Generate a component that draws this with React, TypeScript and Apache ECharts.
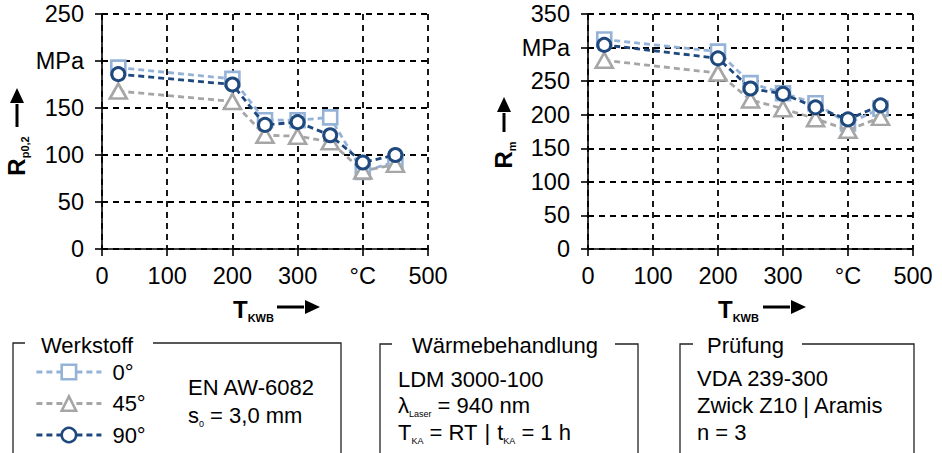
import React, { useEffect, useRef } from 'react';
import * as echarts from 'echarts';

// ---- data ----
const temps = [25, 200, 250, 300, 350, 400, 450];
const rp02_0 = [193, 181, 137, 137, 140, 82, 93];
const rp02_45 = [168, 157, 121, 120, 114, 83, 90];
const rp02_90 = [186, 175, 132, 135, 121, 92, 100];
const rm_0 = [312, 294, 247, 232, 217, 187, 209];
const rm_45 = [281, 262, 222, 209, 194, 177, 196];
const rm_90 = [304, 284, 239, 231, 211, 193, 214];
const orientations = ['0°', '45°', '90°'];
const xUnitTick = 400; // replaced by "°C"
const rpUnitTick = 200; // replaced by "MPa"
const rmUnitTick = 300; // replaced by "MPa"

const colors = ['#95B3D7', '#A6A6A6', '#1F497D'];
const symbols = ['rect', 'triangle', 'circle'];
const symbolSizes: any[] = [14, [17, 15], 13];
const FONT = '"Liberation Sans", Arial, sans-serif';
const TICK_FONT = 23.5;

function mkSeries(name: string, idx: number, vals: number[], gi: number) {
  return {
    type: 'line',
    name,
    xAxisIndex: gi,
    yAxisIndex: gi,
    data: temps.map((t, i) => [t, vals[i]]),
    symbol: symbols[idx],
    symbolSize: symbolSizes[idx],
    showSymbol: true,
    z: 2 + idx,
    lineStyle: { color: colors[idx], width: 2.8, type: [6, 4] },
    itemStyle: { color: '#ffffff', borderColor: colors[idx], borderWidth: idx === 2 ? 3 : 2.6 },
  };
}

function xAxis(gi: number) {
  return {
    gridIndex: gi,
    type: 'value',
    min: 0,
    max: 500,
    interval: 100,
    axisLine: { show: true, lineStyle: { color: '#000', width: 1.6 } },
    axisTick: { show: true, length: 7, lineStyle: { color: '#000', width: 1.6 } },
    axisLabel: {
      fontSize: TICK_FONT,
      color: '#000',
      fontFamily: FONT,
      margin: 15,
      formatter: (v: number) => (v === xUnitTick ? '°C' : String(v)),
    },
    splitLine: { show: true, lineStyle: { color: '#000', width: 1.8, type: [6, 5] } },
  };
}

function yAxis(gi: number, max: number, unitTick: number) {
  return {
    gridIndex: gi,
    type: 'value',
    min: 0,
    max,
    interval: 50,
    axisLine: { show: true, lineStyle: { color: '#000', width: 1.6 } },
    axisTick: { show: true, length: 7, lineStyle: { color: '#000', width: 1.6 } },
    axisLabel: {
      fontSize: TICK_FONT,
      color: '#000',
      fontFamily: FONT,
      margin: 18,
      formatter: (v: number) => (v === unitTick ? 'MPa' : String(v)),
    },
    splitLine: { show: true, lineStyle: { color: '#000', width: 1.8, type: [6, 5] } },
  };
}

function arrowUp(x: number, tip: number, base: number, end: number) {
  return [
    { type: 'line', shape: { x1: x, y1: end, x2: x, y2: base + 1 }, style: { stroke: '#000', lineWidth: 3 } },
    { type: 'polygon', shape: { points: [[x, tip], [x - 7, base], [x + 7, base]] }, style: { fill: '#000' } },
  ];
}
function arrowRight(y: number, start: number, base: number, tip: number) {
  return [
    { type: 'line', shape: { x1: start, y1: y, x2: base - 1, y2: y }, style: { stroke: '#000', lineWidth: 3 } },
    { type: 'polygon', shape: { points: [[tip, y], [base, y - 7], [base, y + 7]] }, style: { fill: '#000' } },
  ];
}

const richMain = { fontSize: 22, fontFamily: FONT, color: '#000', lineHeight: 22, verticalAlign: 'top' };
const richSub = { fontSize: 9, fontFamily: FONT, color: '#000', lineHeight: 10, verticalAlign: 'top', padding: [15, 0, 0, 0] };

function txt(x: number, y: number, text: string) {
  return {
    type: 'text',
    x,
    y,
    style: {
      text,
      rich: { n: richMain, s: richSub, b: { ...richMain, padding: [0, 7, 0, 7] } },
      align: 'left',
      verticalAlign: 'middle',
    },
  };
}

function boxOutline(l: number, r: number, top: number, gapL: number, gapR: number) {
  return [
    { type: 'polyline', shape: { points: [[l, 460], [l, top], [gapL, top]] }, style: { stroke: '#222', lineWidth: 1.3, fill: null } },
    { type: 'polyline', shape: { points: [[gapR, top], [r, top], [r, 460]] }, style: { stroke: '#222', lineWidth: 1.3, fill: null } },
  ];
}

const axisTitleRich = {
  b: { fontSize: 24, fontWeight: 'bold', fontFamily: FONT, color: '#000', lineHeight: 24, verticalAlign: 'top' },
  s: { fontSize: 11, fontWeight: 'bold', fontFamily: FONT, color: '#000', lineHeight: 11, verticalAlign: 'top', padding: [15, 0, 0, 0] },
};

export default function App() {
  const ref = useRef<HTMLDivElement>(null);
  useEffect(() => {
    if (!ref.current) return;
    const chart = echarts.init(ref.current, null, { renderer: 'svg' });
    const option: any = {
      animation: false,
      backgroundColor: '#ffffff',
      textStyle: { fontFamily: FONT },
      grid: [
        { left: 102, top: 14, width: 326, height: 235 },
        { left: 588, top: 14, width: 325, height: 235 },
      ],
      xAxis: [xAxis(0), xAxis(1)],
      yAxis: [yAxis(0, 250, rpUnitTick), yAxis(1, 350, rmUnitTick)],
      legend: {
        orient: 'vertical',
        left: 35,
        top: 361,
        height: 92,
        padding: 0,
        itemWidth: 65,
        itemHeight: 18,
        itemGap: 9.5,
        data: orientations,
        lineStyle: { width: 2.8 },
        itemStyle: { borderWidth: 2.6 },
        textStyle: { fontSize: 22, color: '#000', fontFamily: FONT, padding: [0, 0, 0, 6] },
      },
      series: [
        mkSeries(orientations[0], 0, rp02_0, 0),
        mkSeries(orientations[1], 1, rp02_45, 0),
        mkSeries(orientations[2], 2, rp02_90, 0),
        mkSeries(orientations[0], 0, rm_0, 1),
        mkSeries(orientations[1], 1, rm_45, 1),
        mkSeries(orientations[2], 2, rm_90, 1),
      ],
      graphic: [
        // axis titles
        { type: 'text', x: 16, y: 156, rotation: Math.PI / 2, style: { text: '{b|R}{s|p0,2}', rich: axisTitleRich, align: 'center', verticalAlign: 'middle' } },
        { type: 'text', x: 503, y: 155, rotation: Math.PI / 2, style: { text: '{b|R}{s|m}', rich: axisTitleRich, align: 'center', verticalAlign: 'middle' } },
        { type: 'text', x: 233, y: 309, style: { text: '{b|T}{s|KWB}', rich: axisTitleRich, align: 'left', verticalAlign: 'middle' } },
        { type: 'text', x: 718, y: 309, style: { text: '{b|T}{s|KWB}', rich: axisTitleRich, align: 'left', verticalAlign: 'middle' } },
        ...arrowUp(17, 88, 103, 127),
        ...arrowUp(504, 97, 112, 132),
        ...arrowRight(307, 277, 305, 320),
        ...arrowRight(307, 763, 791, 806),
        // boxes
        ...boxOutline(13, 341, 343, 25, 153),
        txt(41, 345, '{n|Werkstoff}'),
        txt(188, 387, '{n|EN AW-6082}'),
        txt(188, 415, '{n|s}{s|0}{n| = 3,0 mm}'),
        ...boxOutline(380, 638, 344, 392, 615),
        txt(412, 345, '{n|Wärmebehandlung}'),
        txt(398, 379, '{n|LDM 3000-100}'),
        txt(398, 405, '{n|λ}{s|Laser}{n| = 940 nm}'),
        txt(398, 432, '{n|T}{s|KA}{n| = RT}{b||}{n|t}{s|KA}{n| = 1 h}'),
        ...boxOutline(680, 914, 344, 693, 802),
        txt(707, 345, '{n|Prüfung}'),
        txt(697, 378, '{n|VDA 239-300}'),
        txt(697, 405, '{n|Zwick Z10 | Aramis}'),
        txt(697, 432, '{n|n = 3}'),
      ],
    };
    chart.setOption(option);
    return () => chart.dispose();
  }, []);
  return <div ref={ref} style={{ position: 'fixed', left: 0, top: 0, width: 942, height: 453 }} />;
}
